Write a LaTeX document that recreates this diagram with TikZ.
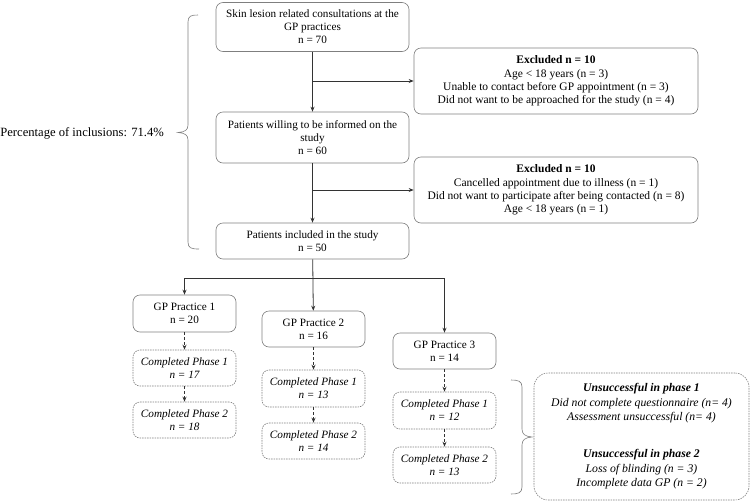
\documentclass[tikz,border=0pt]{standalone}
\usepackage{fontspec}
\setmainfont{Liberation Serif}
\usetikzlibrary{arrows.meta}
\definecolor{boxgray}{HTML}{7F7F7F}
\definecolor{linedark}{HTML}{333333}
\begin{document}
\begin{tikzpicture}[x=1pt,y=-1pt,
  font=\fontsize{11.2}{13}\selectfont,
  boxbase/.style={rectangle, rounded corners=7pt, draw=boxgray, line width=0.6pt, align=center, inner sep=0pt, text=black},
  solidbox/.style={boxbase},
  exbox/.style={boxbase, font=\fontsize{11.5}{13.3}\selectfont},
  dotbox/.style={boxbase, dash pattern=on 1.5pt off 1pt, font=\fontsize{11.2}{13}\selectfont\itshape},
  arr/.style={draw=linedark, line width=0.8pt, -{Stealth[length=5pt,width=4pt]}},
  darr/.style={arr, dash pattern=on 3pt off 2pt},
  brc/.style={draw=boxgray, line width=0.6pt}
]
\useasboundingbox (0,0) rectangle (750,501);

% main column
\node[solidbox, minimum width=193pt, minimum height=49pt] (top) at (312.5,27)
  {Skin lesion related consultations at the\\GP practices\\n = 70};
\node[exbox, minimum width=284pt, minimum height=66pt] (ex1) at (556,81)
  {\textbf{Excluded n = 10}\\Age < 18 years (n = 3)\\Unable to contact before GP appointment (n = 3)\\Did not want to be approached for the study (n = 4)};
\node[solidbox, minimum width=193pt, minimum height=51pt] (mid) at (312.5,137.5)
  {Patients willing to be informed on the\\study\\n = 60};
\node[exbox, minimum width=284pt, minimum height=66pt] (ex2) at (556,190)
  {\textbf{Excluded n = 10}\\Cancelled appointment due to illness (n = 1)\\Did not want to participate after being contacted (n = 8)\\Age < 18 years (n = 1)};
\node[solidbox, minimum width=193pt, minimum height=36pt] (inc) at (312.5,241)
  {Patients included in the study\\n = 50};

% practices
\node[solidbox, minimum width=103pt, minimum height=37pt] (gp1) at (184.5,313.5) {GP Practice 1\\n = 20};
\node[dotbox, minimum width=103pt, minimum height=36pt] (gp1a) at (184.5,368) {Completed Phase 1\\n = 17};
\node[dotbox, minimum width=103pt, minimum height=36pt] (gp1b) at (184.5,420) {Completed Phase 2\\n = 18};

\node[solidbox, minimum width=103pt, minimum height=36pt] (gp2) at (313.5,329) {GP Practice 2\\n = 16};
\node[dotbox, minimum width=103pt, minimum height=37pt] (gp2a) at (313.5,388.5) {Completed Phase 1\\n = 13};
\node[dotbox, minimum width=103pt, minimum height=36pt] (gp2b) at (313.5,441) {Completed Phase 2\\n = 14};

\node[solidbox, minimum width=103pt, minimum height=36pt] (gp3) at (444.5,351) {GP Practice 3\\n = 14};
\node[dotbox, minimum width=103pt, minimum height=37pt] (gp3a) at (444.5,410.5) {Completed Phase 1\\n = 12};
\node[dotbox, minimum width=103pt, minimum height=36pt] (gp3b) at (444.5,465) {Completed Phase 2\\n = 13};

\node[dotbox, rounded corners=14pt, minimum width=215pt, minimum height=127pt, font=\fontsize{11.7}{14.5}\selectfont\itshape] (uns) at (641.5,436.5)
  {\textbf{Unsuccessful in phase 1}\\Did not complete questionnaire (n= 4)\\Assessment unsuccessful (n= 4)\\[22.5pt]\textbf{Unsuccessful in phase 2}\\Loss of blinding (n = 3)\\Incomplete data GP (n = 2)};

\node[anchor=east, inner sep=0pt, font=\fontsize{12.6}{15}\selectfont] (pct) at (164,133) {Percentage of inclusions: 71.4\%};

% connectors
\coordinate (b1) at (top.south |- ex1.west);
\coordinate (b2) at (mid.south |- ex2.west);
\coordinate (h) at (312.5,278);
\draw[arr] (top) -- (mid);
\draw[arr] (b1) -- (ex1.west);
\draw[arr] (mid) -- (inc);
\draw[arr] (b2) -- (ex2.west);
\draw[arr] (inc) -- (gp2);
\draw[arr] (h) -| (gp1.north);
\draw[arr] (h) -| (gp3.north);
\draw[darr] (gp1) -- (gp1a);
\draw[darr] (gp1a) -- (gp1b);
\draw[darr] (gp2) -- (gp2a);
\draw[darr] (gp2a) -- (gp2b);
\draw[darr] (gp3) -- (gp3a);
\draw[darr] (gp3a) -- (gp3b);

% braces
\draw[brc] (198,15) .. controls (191,15) and (188,16) .. (188,22) -- (188,125)
  .. controls (188,130) and (185,132) .. (178,132.5)
  .. controls (185,133) and (188,135) .. (188,140) -- (188,242)
  .. controls (188,248) and (191,249) .. (199,249);
\draw[brc] (511,380) .. controls (518,380) and (522,381) .. (522,387) -- (522,429)
  .. controls (522,434) and (525,436.5) .. (532,437)
  .. controls (525,437.5) and (522,440) .. (522,445) -- (522,487)
  .. controls (522,493) and (518,494) .. (511,494);
\end{tikzpicture}
\end{document}
